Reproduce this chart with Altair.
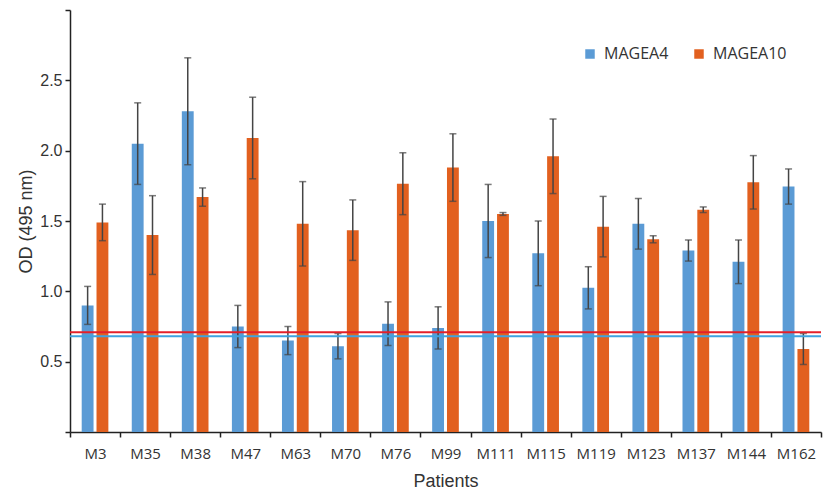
import altair as alt
import pandas as pd

patients = ["M3", "M35", "M38", "M47", "M63", "M70", "M76", "M99", "M111", "M115",
            "M119", "M123", "M137", "M144", "M162"]
magea4 = [0.90, 2.05, 2.28, 0.75, 0.65, 0.61, 0.77, 0.74, 1.50, 1.27, 1.025, 1.48, 1.29, 1.21, 1.745]
magea4_err = [0.135, 0.29, 0.38, 0.15, 0.10, 0.09, 0.155, 0.15, 0.26, 0.23, 0.15, 0.18, 0.075, 0.155, 0.125]
magea10 = [1.49, 1.40, 1.67, 2.09, 1.48, 1.435, 1.765, 1.88, 1.55, 1.96, 1.46, 1.37, 1.58, 1.775, 0.59]
magea10_err = [0.13, 0.28, 0.065, 0.29, 0.30, 0.215, 0.22, 0.24, 0.01, 0.265, 0.215, 0.025, 0.02, 0.19, 0.11]
cutoff_magea4 = 0.68
cutoff_magea10 = 0.71

series = ["MAGEA4", "MAGEA10"]
colors = ["#5B9BD5", "#E2601F"]

rows = []
for i, p in enumerate(patients):
    rows.append({"patient": p, "gene": "MAGEA4", "od": magea4[i],
                 "lo": magea4[i] - magea4_err[i], "hi": magea4[i] + magea4_err[i]})
    rows.append({"patient": p, "gene": "MAGEA10", "od": magea10[i],
                 "lo": magea10[i] - magea10_err[i], "hi": magea10[i] + magea10_err[i]})
df = pd.DataFrame(rows)

LABEL_FONT = "Open Sans"
TITLE_FONT = "Liberation Sans"

x_enc = alt.X("patient:N", sort=patients, title="Patients",
              scale=alt.Scale(paddingInner=0, paddingOuter=0),
              axis=alt.Axis(labelAngle=0, tickBand="extent", labelFontSize=15,
                            titleFontSize=18, titleFontWeight="normal", labelColor="#333",
                            titleColor="#333", domainColor="#222", tickColor="#222",
                            labelPadding=9, titlePadding=11, labelFont=LABEL_FONT,
                            titleFont=TITLE_FONT, tickSize=5, domainWidth=1.5, tickWidth=1.5))
xoff = alt.XOffset("gene:N", sort=series,
                   scale=alt.Scale(paddingInner=0.2, paddingOuter=0.79))
y_scale = alt.Scale(domain=[0, 3], nice=False)

bars = alt.Chart(df).mark_bar().encode(
    x=x_enc,
    xOffset=xoff,
    y=alt.Y("od:Q", scale=y_scale, title="OD (495 nm)",
            axis=alt.Axis(values=[0, 0.5, 1.0, 1.5, 2.0, 2.5, 3.0],
                          labelExpr="datum.value == 0 || datum.value == 3 ? '' : format(datum.value, '.1f')",
                          grid=False, labelFontSize=16, titleFontSize=18, titleFontWeight="normal",
                          labelColor="#333", titleColor="#333", domainColor="#222",
                          tickColor="#222", tickSize=5, labelPadding=3, titlePadding=4,
                          labelFont=TITLE_FONT, titleFont=TITLE_FONT, domainWidth=1.5,
                          tickWidth=1.5)),
    color=alt.Color("gene:N", sort=series,
                    scale=alt.Scale(domain=series, range=colors),
                    legend=alt.Legend(title=None, orient="none", direction="horizontal",
                                      legendX=512, legendY=36, symbolType="square",
                                      symbolSize=90, labelFontSize=16, labelFont=LABEL_FONT,
                                      labelColor="#333", columnPadding=22, padding=0,
                                      symbolStrokeWidth=0, labelOffset=6)),
)

rules = alt.Chart(df).mark_rule(color="#444", strokeWidth=1.5).encode(
    x=alt.X("patient:N", sort=patients),
    xOffset=xoff,
    y=alt.Y("lo:Q", scale=y_scale),
    y2="hi:Q",
)
caps_hi = alt.Chart(df).mark_tick(color="#444", thickness=1.5, size=7).encode(
    x=alt.X("patient:N", sort=patients),
    xOffset=xoff,
    y=alt.Y("hi:Q", scale=y_scale),
)
caps_lo = alt.Chart(df).mark_tick(color="#444", thickness=1.5, size=7).encode(
    x=alt.X("patient:N", sort=patients),
    xOffset=xoff,
    y=alt.Y("lo:Q", scale=y_scale),
)

line_blue = alt.Chart(pd.DataFrame({"v": [cutoff_magea4]})).mark_rule(
    color="#3EA3E0", strokeWidth=2).encode(y=alt.Y("v:Q", scale=y_scale))
line_red = alt.Chart(pd.DataFrame({"v": [cutoff_magea10]})).mark_rule(
    color="#E3202A", strokeWidth=2).encode(y=alt.Y("v:Q", scale=y_scale))

chart = alt.layer(bars, rules, caps_hi, caps_lo, line_blue, line_red).properties(
    width=751, height=422,
    autosize=alt.AutoSizeParams(type="none"),
    padding={"left": 62, "top": 2, "right": 3, "bottom": 57},
    background="white",
).configure_view(stroke=None)

chart.save("out.html", embed_options={"renderer": "svg", "actions": False})
